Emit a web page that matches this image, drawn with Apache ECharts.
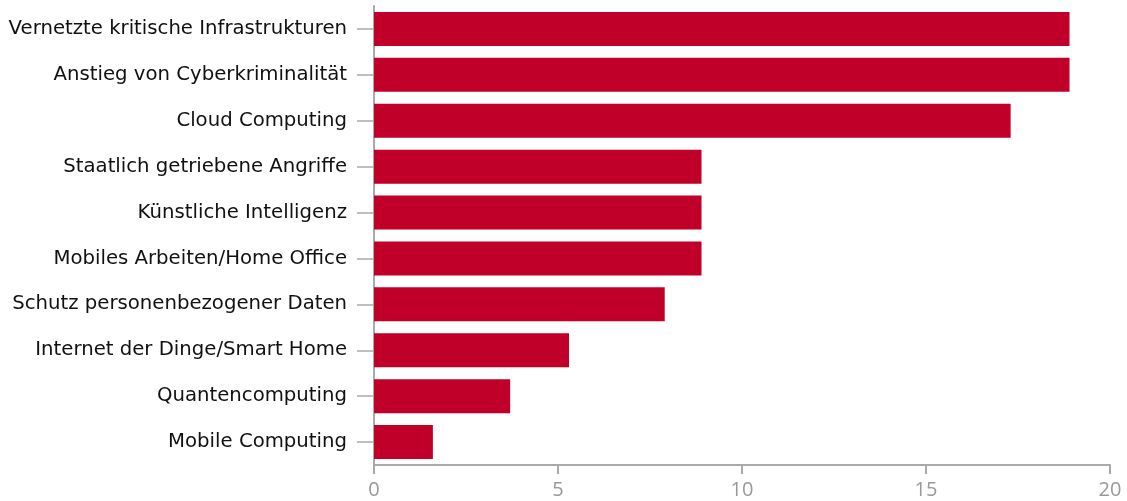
<!DOCTYPE html>
<html>
<head>
<meta charset="utf-8">
<script src="https://cdn.jsdelivr.net/npm/echarts@6/dist/echarts.min.js"></script>
<style>
  html, body { margin: 0; padding: 0; background: #fff; }
  #chart { width: 1127px; height: 501px; }
</style>
</head>
<body>
<div id="chart"></div>
<script>
// Kategorien (von oben nach unten)
const categories = [
  "Vernetzte kritische Infrastrukturen",
  "Anstieg von Cyberkriminalität",
  "Cloud Computing",
  "Staatlich getriebene Angriffe",
  "Künstliche Intelligenz",
  "Mobiles Arbeiten/Home Office",
  "Schutz personenbezogener Daten",
  "Internet der Dinge/Smart Home",
  "Quantencomputing",
  "Mobile Computing"
]
const values = [18.9, 18.9, 17.3, 8.9, 8.9, 8.9, 7.9, 5.3, 3.7, 1.6]
const xTicks = [0, 5, 10, 15, 20]

const myChart = echarts.init(document.getElementById("chart"))

const option = {
  animation: false,
  grid: {
    left: 374,
    right: 17,
    top: 6,
    bottom: 36,
    containLabel: false,
  },
  xAxis: {
    type: "value",
    min: xTicks[0],
    max: xTicks[xTicks.length - 1],
    interval: xTicks[1] - xTicks[0],
    splitLine: { show: false },
    axisLine: { show: true, lineStyle: { color: "#aaaaaa", width: 2 } },
    axisTick: { show: true, length: 9, lineStyle: { color: "#aaaaaa", width: 2 } },
    axisLabel: {
      color: "#999999",
      fontSize: 20,
      fontFamily: "Open Sans",
      margin: 15,
    },
  },
  yAxis: {
    type: "category",
    inverse: true,
    data: categories,
    axisLine: { show: true, lineStyle: { color: "#aaaaaa", width: 2 } },
    axisTick: { show: true, alignWithLabel: true, length: 17, lineStyle: { color: "#aaaaaa", width: 1.5 } },
    axisLabel: {
      color: "#111111",
      fontSize: 19.7,
      fontFamily: "DejaVu Sans",
      margin: 27,
    },
  },
  series: [
    {
      type: "bar",
      data: values,
      barCategoryGap: "26%",
      itemStyle: { color: "#c00028" },
    },
  ],
}

myChart.setOption(option)
</script>
</body>
</html>
